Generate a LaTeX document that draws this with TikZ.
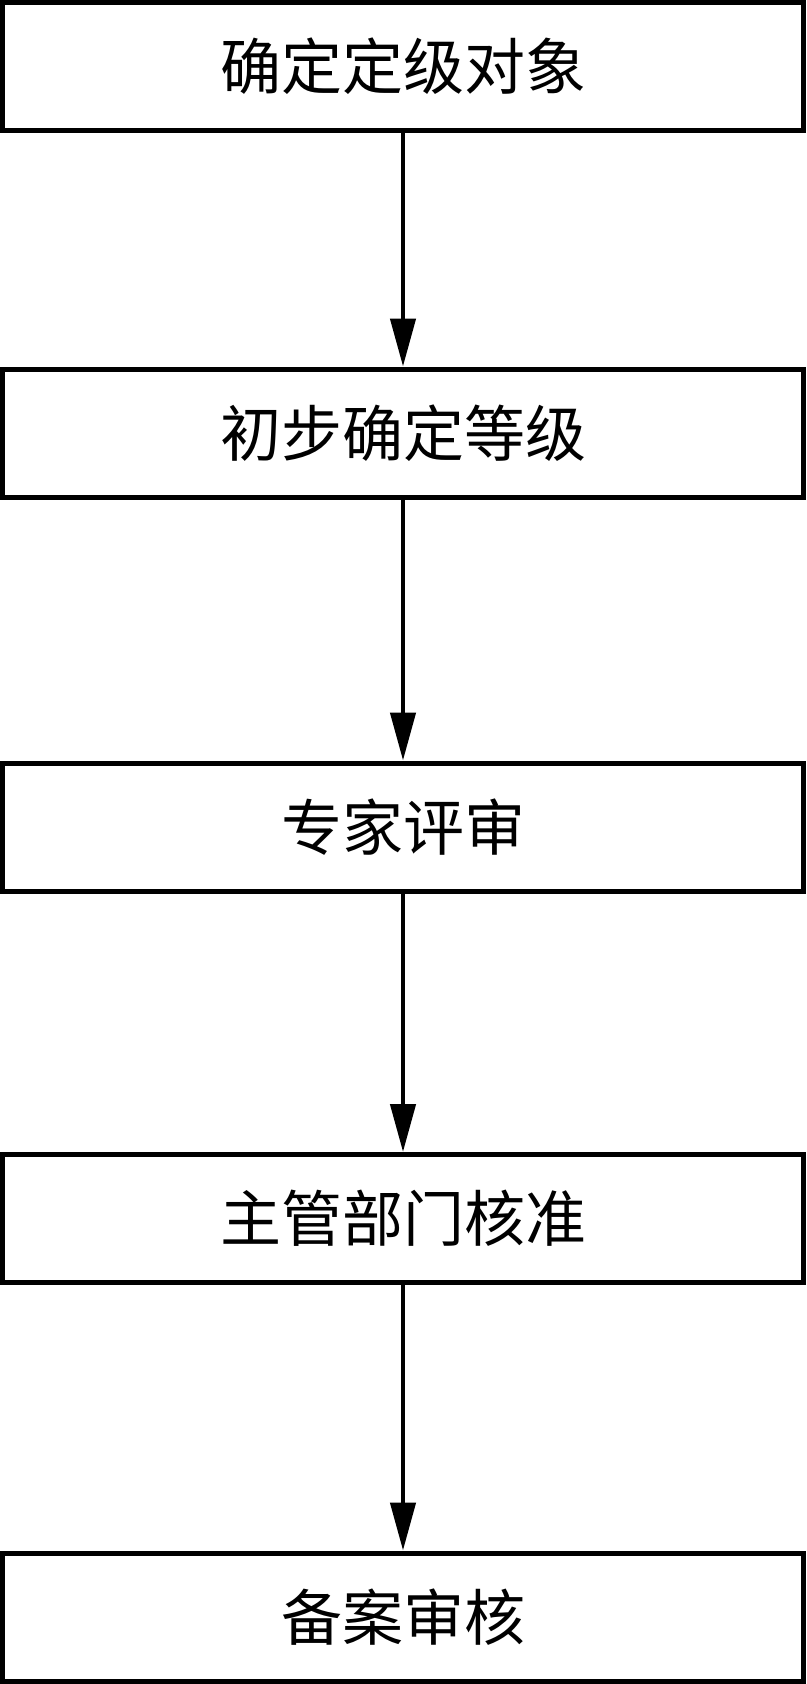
\documentclass[tikz,border=0pt]{standalone}
\usepackage{fontspec}
\newfontfamily\cjk{Noto Sans CJK SC}
\usetikzlibrary{arrows.meta}
\begin{document}
\begin{tikzpicture}[x=1pt,y=-1pt,
  stagebox/.style={draw=black,line width=5pt,fill=white,minimum width=801pt,minimum height=128pt,inner sep=0pt,
    font=\cjk\fontsize{61}{72}\selectfont},
  flowarrow/.style={line width=4.5pt,-{Triangle[length=48pt,width=25pt]}}]
\useasboundingbox (0,0) rectangle (806,1684);
\node[stagebox] (b1) at (403,66.5) {确定定级对象};
\node[stagebox] (b2) at (403,433) {初步确定等级};
\node[stagebox] (b3) at (403,827) {专家评审};
\node[stagebox] (b4) at (403,1218.5) {主管部门核准};
\node[stagebox] (b5) at (403,1617) {备案审核};
\draw[flowarrow] (b1.south) -- (b2.north);
\draw[flowarrow] (b2.south) -- (b3.north);
\draw[flowarrow] (b3.south) -- (b4.north);
\draw[flowarrow] (b4.south) -- (b5.north);
\end{tikzpicture}
\end{document}
